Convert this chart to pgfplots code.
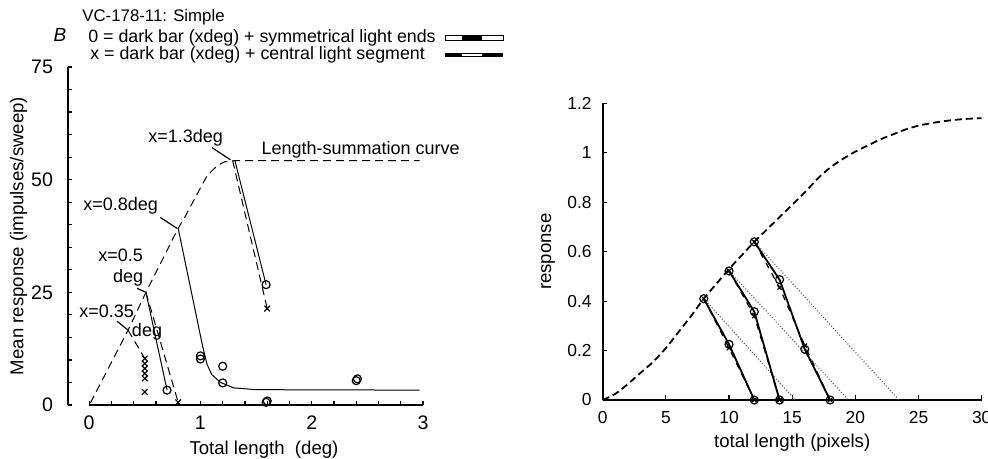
\documentclass[border=0pt]{standalone}
\usepackage{fontspec}
\setmainfont{Liberation Sans}
\usepackage{pgfplots}
\pgfplotsset{compat=1.18}

\begin{document}
\begin{tikzpicture}[x=1pt,y=1pt]
% ---------------- left panel ----------------
\begin{axis}[
  at={(34pt,27pt)}, anchor=south west,
  scale only axis, width=177.5pt, height=169pt,
  xmin=-0.19, xmax=3, ymin=0, ymax=75,
  axis lines=left, axis line style={-, line width=0.7pt},
  x axis line style={draw=none},
  clip=false,
  xtick={0,1,2,3},
  minor xtick={0.2,0.4,0.6,0.8,1.2,1.4,1.6,1.8,2.2,2.4,2.6,2.8},
  ytick={0,25,50,75},
  minor ytick={5,10,15,20,30,35,40,45,55,60,65,70},
  tick align=inside,
  major tick length=2.2pt, minor tick length=2.2pt,
  tick style={black, line width=0.6pt},
  tick label style={font=\fontsize{9.8}{11}\selectfont},
  /pgf/number format/assume math mode=true,
  xticklabel style={yshift=-2pt},
  yticklabel style={xshift=-4pt},
  xlabel={Total length\ \ (deg)},
  ylabel={Mean response (impulses/sweep)},
  label style={font=\fontsize{9.3}{11}\selectfont},
  xlabel style={at={(axis description cs:0.552,-0.133)}, anchor=center},
  ylabel style={at={(axis description cs:-0.139,0.5)}, anchor=center},
]
\draw[line width=0.7pt] (0,0) -- (3,0);
% length-summation curve
\addplot[black, line width=0.5pt, dash pattern=on 4pt off 2.5pt] coordinates {
  (0.01,0.4) (0.35,16.6) (0.51,25) (0.8,39.2) (0.86,41.7) (0.97,46.8)
  (1.06,50.9) (1.15,53.1) (1.22,54) (1.3,54.2) (2.97,54.2)};
% declines
\addplot[black, line width=0.5pt, dash pattern=on 4pt off 2.5pt] coordinates {(0.35,16.6) (0.5,10.3)};
\addplot[black, line width=0.5pt] coordinates {(0.51,25) (0.7,3.3)};
\addplot[black, line width=0.5pt, dash pattern=on 4pt off 2.5pt] coordinates {(0.51,25) (0.8,0.6)};
\addplot[black, line width=0.5pt] coordinates {
  (0.8,39.2) (1.02,13) (1.06,9) (1.1,6.8) (1.18,5) (1.3,3.8) (1.5,3.4) (2.97,3.3)};
\addplot[black, line width=0.5pt] coordinates {(1.31,54.2) (1.59,26.7)};
\addplot[black, line width=0.5pt, dash pattern=on 4pt off 2.5pt] coordinates {(1.29,54.2) (1.6,21.4)};
% o points
\addplot[only marks, mark=o, mark size=2pt, mark options={black, line width=0.6pt}] coordinates {
  (0.7,3.3) (1.0,10.2) (1.0,10.9) (1.2,8.6) (1.2,4.9) (1.59,26.7)
  (1.59,0.6) (1.6,0.9) (2.4,5.4) (2.41,5.8)};
% x points
\addplot[only marks, mark=x, mark size=2pt, mark options={black, line width=0.6pt}] coordinates {
  (0.5,10.3) (0.5,9.2) (0.5,8.1) (0.5,7.0) (0.5,5.9) (0.5,2.9) (0.8,0.6) (1.6,21.4)};
% annotations
\begin{scope}[every node/.style={inner sep=0pt, font=\fontsize{9}{11}\selectfont}]
\node at (0.157,20.8) {x=0.35};
\node at (0.52,16.2) {deg};
\node at (0.283,33.2) {x=0.5};
\node at (0.35,28.3) {deg};
\node at (0.283,44.2) {x=0.8deg};
\node at (0.867,59.3) {x=1.3deg};
\node at (2.44,56.6) {Length-summation curve};
\end{scope}
\draw[line width=0.6pt] (0.25,18.6) -- (0.35,16.6);
\draw[line width=0.6pt] (0.43,25.9) -- (0.51,25);
\draw[line width=0.6pt] (0.64,41.6) -- (0.79,39.2);
\draw[line width=0.6pt] (1.105,57.1) -- (1.27,54.4);
\end{axis}

% ---------------- right panel ----------------
\begin{axis}[
  at={(301.35pt,29.5pt)}, anchor=south west,
  scale only axis, width=189.5pt, height=148.3pt,
  xmin=0, xmax=30, ymin=0, ymax=1.2,
  axis lines=left, axis line style={-, line width=0.9pt},
  clip=false,
  xtick={0,5,10,15,20,25,30},
  ytick={0,0.2,0.4,0.6,0.8,1,1.2},
  tick align=inside,
  major tick length=2.3pt,
  tick style={black, line width=0.6pt},
  tick label style={font=\fontsize{8.7}{10}\selectfont},
  /pgf/number format/assume math mode=true,
  xticklabel style={yshift=-2pt},
  yticklabel style={xshift=-2pt},
  xlabel={total length (pixels)},
  ylabel={response},
  label style={font=\fontsize{9.3}{11}\selectfont},
  xlabel style={at={(axis description cs:0.5,-0.145)}, anchor=center},
  ylabel style={at={(axis description cs:-0.144,0.5)}, anchor=center},
]
\addplot[black, line width=0.9pt, dash pattern=on 3.5pt off 2pt, smooth] coordinates {
  (0,0) (1,0.025) (2,0.065) (3,0.11) (4,0.155) (5,0.21) (6,0.275) (7,0.34)
  (8,0.41) (9,0.47) (10,0.53) (11,0.585) (12,0.64) (13,0.69) (14,0.74)
  (15,0.79) (16,0.84) (17,0.895) (18,0.94) (19,0.975) (20,1.005) (21,1.03)
  (22,1.055) (23,1.075) (24,1.095) (25,1.11) (26,1.12) (27,1.128)
  (28,1.134) (29,1.138) (30,1.14)};
% dotted linear extrapolations
\addplot[black!70, line width=0.5pt, dash pattern=on 0.5pt off 1pt] coordinates {(8,0.41) (15.25,0)};
\addplot[black!70, line width=0.5pt, dash pattern=on 0.5pt off 1pt] coordinates {(10,0.522) (19.45,0)};
\addplot[black!70, line width=0.5pt, dash pattern=on 0.5pt off 1pt] coordinates {(12,0.64) (23.46,0)};
% dashed with x
\addplot[black, line width=0.6pt, dashed, mark=x, mark size=1.5pt, mark options={solid}] coordinates {
  (8,0.41) (10,0.21) (12,0)};
\addplot[black, line width=0.6pt, dashed, mark=x, mark size=1.5pt, mark options={solid}] coordinates {
  (10,0.522) (12,0.34) (14,0)};
\addplot[black, line width=0.6pt, dashed, mark=x, mark size=1.5pt, mark options={solid}] coordinates {
  (12,0.64) (14,0.455) (16,0.22) (18,0)};
% solid with o
\addplot[black, line width=0.9pt, mark=o, mark size=2pt, mark options={solid, line width=0.6pt}] coordinates {
  (8,0.41) (10,0.225) (12,0)};
\addplot[black, line width=0.9pt, mark=o, mark size=2pt, mark options={solid, line width=0.6pt}] coordinates {
  (10,0.522) (12,0.357) (14,0)};
\addplot[black, line width=0.9pt, mark=o, mark size=2pt, mark options={solid, line width=0.6pt}] coordinates {
  (12,0.64) (14,0.487) (16,0.205) (18,0)};
\end{axis}

% ---------------- header ----------------
\node[inner sep=0pt, font=\fontsize{9.5}{11}\selectfont] at (30,212) {\textit{B}};
\node[inner sep=0pt, anchor=west, font=\fontsize{8.4}{10}\selectfont] at (41,221) {VC-178-11: Simple};
\node[inner sep=0pt, anchor=west, font=\fontsize{8.9}{10}\selectfont] at (44,210.5) {0 = dark bar (xdeg) + symmetrical light ends};
\node[inner sep=0pt, anchor=west, font=\fontsize{8.9}{10}\selectfont] at (45,202) {x = dark bar (xdeg) + central light segment};
% bar symbols
\draw[line width=0.5pt, fill=white] (222.5,209.4) rectangle (251.5,211.6);
\fill[black] (231,209.4) rectangle (241,211.6);
\fill[black] (222.5,200.9) rectangle (251.5,203.1);
\fill[white] (231,201.5) rectangle (241,202.5);

\pgfresetboundingbox
\path[use as bounding box] (0,0) rectangle (494,229.5);
\end{tikzpicture}
\end{document}
